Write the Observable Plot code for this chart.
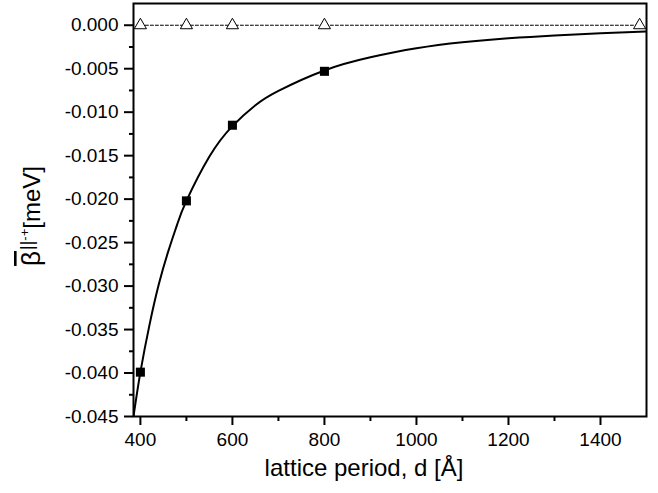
<!DOCTYPE html>
<html><head><meta charset="utf-8">
<script src="https://cdn.jsdelivr.net/npm/d3@7"></script>
<script src="https://cdn.jsdelivr.net/npm/@observablehq/plot@0.6"></script>
<style>body{margin:0;background:#fff} #chart{width:658px;height:493px}</style>
</head><body><div id="chart"></div>
<script>
// measured points (filled squares)
const squareX = [400, 500, 600, 800];
const squareY = [-0.0399, -0.0202, -0.0115, -0.0053];
// open triangles on the zero line
const triangleX = [400, 500, 600, 800, 1485];
const triangleY = [0, 0, 0, 0, 0];
// fitted curve
const fitX = [385, 400, 420, 440, 460, 480, 500, 550, 600, 650, 700, 800, 900, 1000, 1100, 1200, 1300, 1400, 1500];
const fitY = [-0.0450, -0.0399, -0.0344, -0.0298, -0.0261, -0.0229, -0.0202, -0.0151, -0.0116, -0.0092, -0.00755, -0.0052,
              -0.00369, -0.00265, -0.00196, -0.00150, -0.00117, -0.00092, -0.00073];
// ticks
const xMajorTicks = [400, 600, 800, 1000, 1200, 1400];
const xMinorTicks = [500, 700, 900, 1100, 1300];
const yMajorTicks = [0, -0.005, -0.010, -0.015, -0.020, -0.025, -0.030, -0.035, -0.040, -0.045];
const yMinorTicks = [-0.0025, -0.0075, -0.0125, -0.0175, -0.0225, -0.0275, -0.0325, -0.0375, -0.0425];
const xLabel = "lattice period, d [Å]";
const yLabelParts = ["β", "||", "-+", "[meV]"];

const squares = squareX.map((x, i) => ({x, y: squareY[i]}));
const triangles = triangleX.map((x, i) => ({x, y: triangleY[i]}));
const fit = fitX.map((x, i) => ({x, y: fitY[i]}));
const font = "'Liberation Sans', Arial, Helvetica, sans-serif";

const plot = Plot.plot({
  width: 658, height: 493,
  marginLeft: 133, marginRight: 12, marginTop: 3, marginBottom: 77,
  style: {fontFamily: font, fontSize: "19px", color: "#000", background: "#fff"},
  x: {domain: [385, 1500]},
  y: {domain: [-0.045, 0.0025]},
  marks: [
    Plot.axisX(xMajorTicks, {tickSize: 9, tickPadding: 7, tickFormat: d => String(d), strokeWidth: 2, label: null, fontSize: 19}),
    Plot.axisX(xMinorTicks, {tickSize: 5, tickFormat: () => "", strokeWidth: 2, label: null}),
    Plot.axisY(yMajorTicks, {tickSize: 9, tickPadding: 6, tickFormat: d => d.toFixed(3), strokeWidth: 2, label: null, fontSize: 19}),
    Plot.axisY(yMinorTicks, {tickSize: 4, tickFormat: () => "", strokeWidth: 2, label: null}),
    Plot.line(fit, {x: "x", y: "y", curve: "natural", stroke: "#000", strokeWidth: 2, clip: true}),
    Plot.line(triangles, {x: "x", y: "y", stroke: "#000", strokeWidth: 1, strokeDasharray: "3,2"}),
    Plot.dot(triangles, {x: "x", y: "y", symbol: "triangle", r: 4.5, fill: "#fff", stroke: "#000", strokeWidth: 1}),
    Plot.dot(squares, {x: "x", y: "y", symbol: "square", r: 5.1, fill: "#000", stroke: "none"}),
    Plot.frame({stroke: "#000", strokeWidth: 2}),
    Plot.text([xLabel], {frameAnchor: "bottom", dy: 59, dx: -26, fontSize: 24, fill: "#000"})
  ]
});
document.getElementById("chart").appendChild(plot);

// y-axis label with overbar and superscript
const svg = d3.select(plot);
const t = svg.append("text")
  .attr("transform", "translate(40,216) rotate(-90)")
  .attr("text-anchor", "middle")
  .attr("fill", "#000")
  .style("font-family", font)
  .style("font-size", "24px");
t.append("tspan").style("font-size", "26px").style("text-decoration", "overline").text(yLabelParts[0]);
t.append("tspan").style("font-size", "18px").attr("dx", 1).attr("dy", -7).text(yLabelParts[1]);
t.append("tspan").style("font-size", "13px").attr("dy", -4).text(yLabelParts[2]);
t.append("tspan").style("font-size", "24px").attr("dy", 11).text(yLabelParts[3]);
</script>
</body></html>
